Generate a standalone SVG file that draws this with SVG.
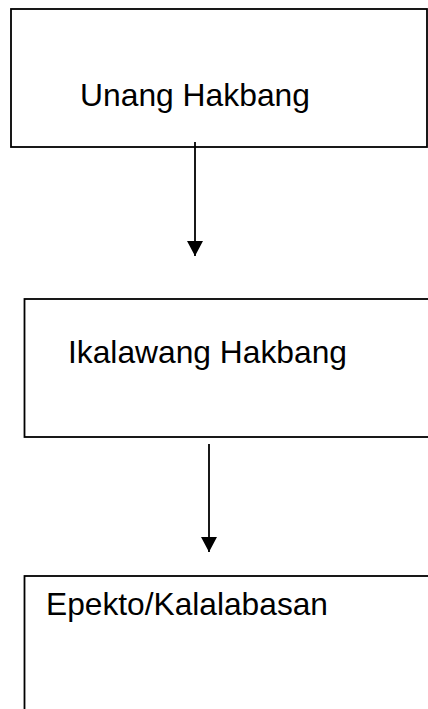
<svg xmlns="http://www.w3.org/2000/svg" width="428" height="709" viewBox="0 0 428 709">
<defs>
<style>
.box{fill:#fff;stroke:#000;stroke-width:1.8}
.lbl{font-family:"Liberation Sans",Arial,sans-serif;font-size:31.7px;fill:#000}
.conn{stroke:#000;stroke-width:1.8;fill:none}
</style>
<marker id="ah" markerWidth="16" markerHeight="17" refX="15" refY="8" orient="auto" markerUnits="userSpaceOnUse">
<path d="M0,0 L15,8 L0,16 Z" fill="#000"/>
</marker>
</defs>
<rect width="428" height="709" fill="#fff"/>
<g id="node1">
<rect class="box" x="11" y="9" width="416" height="138"/>
<text class="lbl" x="80" y="106" textLength="230" lengthAdjust="spacingAndGlyphs">Unang Hakbang</text>
</g>
<g id="node2">
<rect class="box" x="24.5" y="299" width="420" height="138"/>
<text class="lbl" x="68" y="363" textLength="279" lengthAdjust="spacingAndGlyphs">Ikalawang Hakbang</text>
</g>
<g id="node3">
<rect class="box" x="24.5" y="576" width="420" height="150"/>
<text class="lbl" x="46" y="615" textLength="282" lengthAdjust="spacingAndGlyphs">Epekto/Kalalabasan</text>
</g>
<g id="connectors">
<line class="conn" x1="195" y1="142" x2="195" y2="256" marker-end="url(#ah)"/>
<line class="conn" x1="209" y1="444" x2="209" y2="552" marker-end="url(#ah)"/>
</g>
</svg>
